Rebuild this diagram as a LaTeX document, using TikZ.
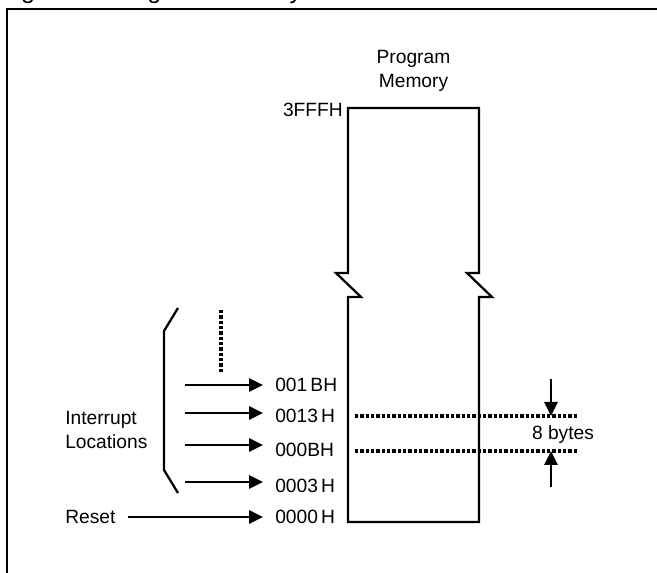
\documentclass[tikz,border=0pt]{standalone}
\usepackage{fontspec}
\setmainfont{Liberation Sans}
\usetikzlibrary{arrows.meta}

\begin{document}
\begin{tikzpicture}[x=0.75pt,y=-0.75pt,
    txt/.style={font=\fontsize{14.4}{17.5}\selectfont, inner sep=0pt, text depth=0pt},
    addr/.style={txt, inner xsep=9pt, anchor=west},
    arr/.style={line width=1.7pt, -{Triangle[length=10.5pt,width=10pt]}},
    dots/.style={line width=2.6pt, dash pattern=on 2.6pt off 1.4pt},
    thk/.style={line width=1.7pt}]
    \useasboundingbox (0,0) rectangle (657,573);
    \clip (0,0) rectangle (657,573);
    \node[anchor=base west, inner sep=0pt, font=\fontsize{18.8}{22}\selectfont] (title) at (0,-1) {Figure 1. Program Memory};
    \draw[thk] (7,9) rectangle (680,600);
    % memory block with break
    \coordinate (mtl) at (348,108);
    \coordinate (mbr) at (479,522);
    \draw[thk] (348,522) -- (348,297) -- (361,297) -- (336,273) -- (348,273) -- (mtl) -- (479,108)
        -- (479,273) -- (467,273) -- (492,297) -- (479,297) -- (mbr) -- cycle;
    \node[txt, align=center] (pm) at (413.5,69) {Program\\Memory};
    \node[txt, anchor=east] (top) at (343,110) {3FFFH};
    % addresses
    \node[addr] (a1B) at (263,385) {001\,BH};
    \node[addr] (a13) at (263,416) {0013\,H};
    \node[addr] (a0B) at (263,450) {000BH};
    \node[addr] (a03) at (263,486) {0003\,H};
    \node[addr] (a00) at (263,517) {0000\,H};
    \coordinate (s1) at (185,385);
    \coordinate (s2) at (185,413);
    \coordinate (s3) at (185,445);
    \coordinate (s4) at (185,482);
    \draw[arr] (s1) -- (s1 -| a1B.west);
    \draw[arr] (s2) -- (s2 -| a13.west);
    \draw[arr] (s3) -- (s3 -| a0B.west);
    \draw[arr] (s4) -- (s4 -| a03.west);
    \node[addr] (reset) at (53,517) {Reset};
    \draw[arr] (reset.east) -- (a00.west);
    \draw[dots] (221,310) -- (221,372);
    \draw[thk] (178,308) -- (164,331) -- (164,470) -- (178,493);
    \node[txt, align=left, anchor=west] (intr) at (65,430) {Interrupt\\Locations};
    % 8 byte spacing
    \coordinate (d1l) at (355,416);
    \coordinate (d1r) at (578,416);
    \coordinate (d2l) at (355,451);
    \coordinate (d2r) at (578,451);
    \draw[dots] (d1l) -- (d1r);
    \draw[dots] (d2l) -- (d2r);
    \coordinate (b1) at (551,379);
    \coordinate (b2) at (551,487);
    \draw[arr] (b1) -- (b1 |- d1r);
    \draw[arr] (b2) -- (b2 |- d2r);
    \node[txt] (bytes) at (563,433) {8 bytes};
\end{tikzpicture}
\end{document}
